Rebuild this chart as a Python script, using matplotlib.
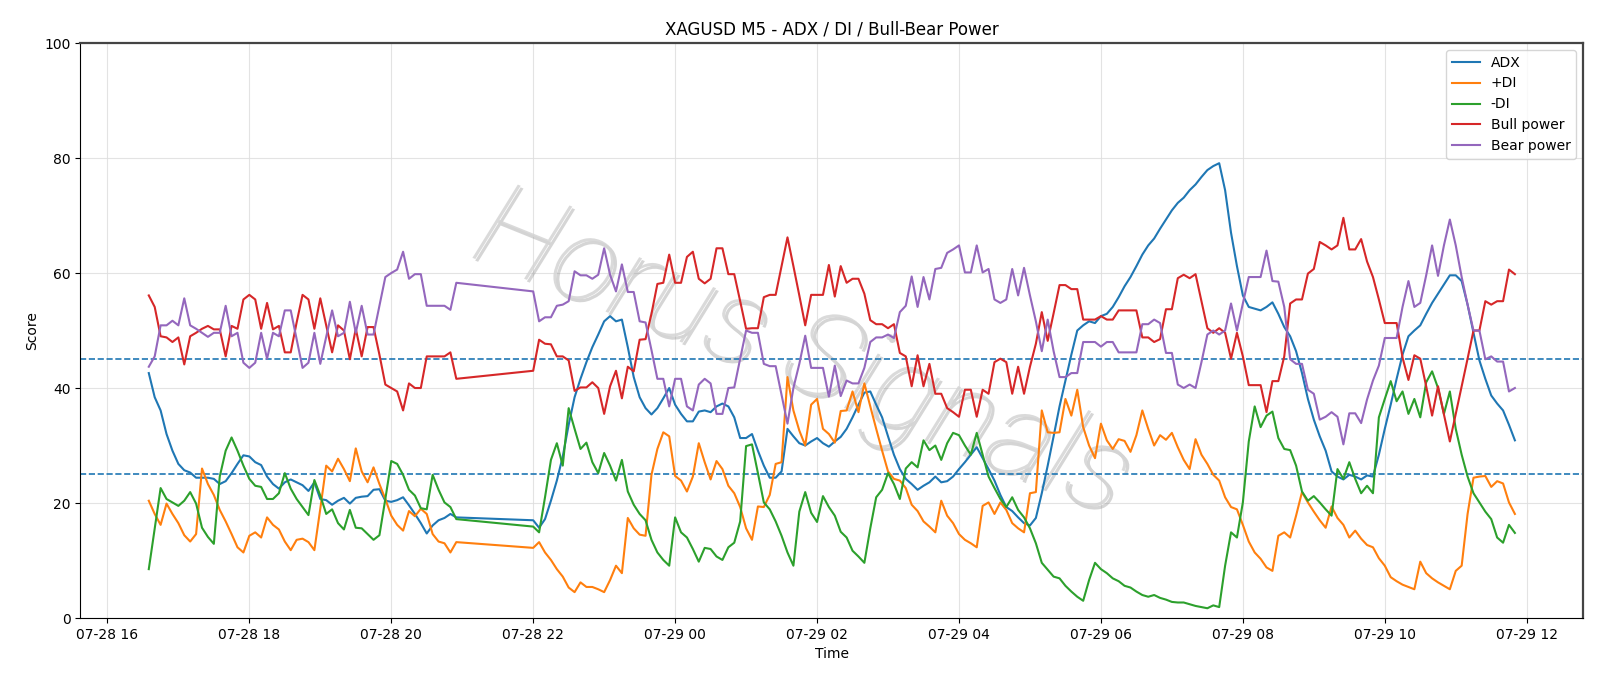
import matplotlib
matplotlib.use("Agg")
import matplotlib.pyplot as plt
import matplotlib.dates as mdates
import matplotlib.patheffects as pe
import pandas as pd
import numpy as np

# ---- time axis (M5 bars, with the daily break 21:00-22:00) ----
times_pre = pd.date_range("2025-07-28 16:35", "2025-07-28 20:55", freq="5min")
times_post = pd.date_range("2025-07-28 22:00", "2025-07-29 11:50", freq="5min")

# ---- series values ----
adx_pre = [42.6, 38.4, 36.1, 32.0, 29.1, 26.8, 25.7, 25.3, 24.4, 24.4, 24.4, 24.2, 23.3, 23.8, 25.2,
           26.8, 28.3, 28.1, 27.1, 26.6, 24.6, 23.3, 22.5, 23.6, 24.1, 23.6, 23.1, 22.1, 23.6,
           20.7, 20.5, 19.7, 20.4, 20.9, 19.9, 20.9, 21.1, 21.2, 22.3, 22.4, 20.4, 20.2, 20.5, 21.0,
           19.6, 18.1, 16.5, 14.7, 16.1, 17.0, 17.4, 18.1, 17.5]
adx_post = [17.0, 15.7, 17.2, 20.4, 23.9, 28.1, 33.6, 38.4, 41.6, 44.5, 47.1, 49.3, 51.6, 52.5, 51.6,
            51.9, 47.1, 41.9, 38.4, 36.5, 35.4, 36.5, 38.2, 40.0,
            37.1, 35.5, 34.2, 34.2, 35.9, 36.1, 35.8, 36.8, 37.3, 36.8, 34.9, 31.3, 31.3, 32.0, 29.1,
            26.5, 24.4, 24.4, 25.5, 32.9, 31.6, 30.4, 30.0, 30.7, 31.3, 30.4, 29.8, 30.7, 31.5,
            32.9, 34.9, 37.1, 39.2, 39.4, 37.1, 34.9, 31.6, 28.4, 25.9, 24.2, 23.3, 22.3, 23.0, 23.6,
            24.6, 23.6, 23.8, 24.6, 25.9, 27.1, 28.4, 29.7, 27.8, 25.9, 23.9, 21.4, 19.3, 18.6, 17.5,
            16.5, 16.1, 17.4, 21.7, 26.5, 31.6, 36.8, 41.3, 45.8, 50.0, 50.9, 51.6, 51.3, 52.5, 52.9,
            54.1, 55.8, 57.7, 59.3, 61.2, 63.2, 64.8, 66.0, 67.7, 69.3, 70.9, 72.2, 73.1, 74.4,
            75.4, 76.7, 77.9, 78.6, 79.1, 74.4, 67.0, 61.2, 56.1, 54.1, 53.8, 53.5, 54.1, 54.9, 52.9,
            50.6, 49.0, 46.4, 42.6, 38.1, 34.5, 31.6, 29.1, 25.5, 24.6, 24.1, 24.9, 24.6, 24.1, 24.8,
            24.6, 28.4, 32.9, 37.1, 41.6, 45.8, 49.0, 50.0, 50.9, 52.9, 54.8, 56.4, 58.0, 59.6, 59.6,
            58.6, 54.5, 49.6, 44.8, 41.6, 38.7, 37.3, 36.1, 33.6, 30.9]

pdi_pre = [20.4, 18.1, 16.2, 19.9, 18.1, 16.5, 14.4, 13.3, 14.6, 26.0, 23.3, 21.4, 18.8, 16.8, 14.6,
           12.3, 11.4, 14.3, 14.9, 14.0, 17.5, 16.2, 15.4, 13.3, 11.8, 13.6, 13.8, 13.2, 11.8,
           19.0, 26.5, 25.5, 27.7, 25.9, 23.8, 29.5, 25.5, 23.6, 26.2, 23.3, 20.7, 17.8, 16.2, 15.2,
           18.6, 17.7, 19.0, 18.1, 14.6, 13.3, 13.0, 11.4, 13.2]
pdi_post = [12.2, 13.2, 11.4, 10.1, 8.5, 7.2, 5.3, 4.5, 6.2, 5.4, 5.4, 5.0, 4.5, 6.6, 9.1, 7.8,
            17.4, 15.6, 14.5, 14.3, 24.9, 29.4, 32.3, 31.6,
            24.7, 23.9, 22.0, 24.6, 30.4, 27.1, 24.1, 27.3, 25.9, 23.0, 21.7, 19.3, 15.6, 13.6, 19.4,
            19.3, 21.4, 26.8, 27.1, 41.9, 36.1, 32.6, 30.0, 37.1, 38.1, 32.9, 32.0, 30.5, 36.0,
            36.1, 39.4, 35.8, 40.8, 36.8, 32.9, 29.1, 25.5, 24.2, 23.9, 22.6, 19.7, 18.6, 16.8, 15.9,
            14.9, 20.4, 17.8, 16.5, 14.6, 13.6, 13.0, 12.3, 19.5, 20.1, 18.1, 20.1, 18.8, 16.5, 15.6,
            14.9, 21.7, 21.9, 36.1, 32.3, 32.2, 32.3, 38.1, 35.2, 39.7, 33.2, 30.0, 27.8, 33.8, 30.9,
            29.4, 31.1, 30.8, 28.9, 31.8, 36.1, 32.9, 30.0, 31.8, 31.0, 32.2, 29.7, 27.5, 25.9,
            31.1, 28.4, 26.8, 24.9, 23.9, 21.0, 19.3, 18.9, 16.2, 13.3, 11.4, 10.3, 8.8, 8.2, 14.3,
            14.9, 14.0, 17.8, 21.9, 20.1, 18.5, 17.0, 15.7, 19.4, 17.4, 16.2, 14.0, 15.2, 13.8, 12.7,
            12.3, 10.4, 9.1, 7.1, 6.4, 5.8, 5.4, 5.0, 9.8, 7.8, 6.9, 6.2, 5.6, 5.0, 8.2,
            9.1, 18.1, 24.4, 24.6, 24.7, 22.8, 23.8, 23.4, 20.1, 18.1]

mdi_pre = [8.5, 15.6, 22.6, 20.7, 20.1, 19.5, 20.4, 21.9, 19.9, 15.7, 14.1, 12.9, 24.6, 29.1, 31.4,
           29.1, 26.5, 24.2, 23.0, 22.8, 20.7, 20.7, 21.7, 25.2, 22.5, 20.7, 19.3, 17.9, 24.0,
           21.3, 18.1, 18.9, 16.5, 15.4, 18.8, 15.7, 15.6, 14.6, 13.6, 14.4, 20.7, 27.3, 26.8, 24.9,
           22.3, 21.3, 19.1, 18.9, 24.9, 22.3, 20.1, 19.3, 17.2]
mdi_post = [15.9, 14.9, 21.0, 27.5, 30.4, 26.5, 36.5, 32.9, 29.4, 30.5, 27.1, 25.2, 28.7, 26.5, 23.9,
            27.5, 22.0, 19.7, 18.1, 17.0, 13.6, 11.4, 10.1, 9.1,
            17.5, 14.9, 14.0, 12.0, 9.8, 12.2, 12.0, 10.7, 10.1, 12.3, 13.1, 16.8, 29.9, 30.2, 25.2,
            20.1, 18.9, 16.8, 14.3, 11.4, 9.1, 18.5, 21.9, 18.3, 16.7, 21.2, 19.3, 17.8, 15.0,
            14.0, 11.7, 10.7, 9.6, 15.6, 21.0, 22.3, 25.2, 23.3, 20.7, 26.0, 27.1, 26.2, 30.9, 29.2,
            30.0, 27.5, 30.4, 32.2, 31.8, 30.0, 28.4, 32.2, 28.4, 24.6, 22.6, 20.7, 19.3, 21.0, 18.8,
            17.5, 15.6, 13.0, 9.6, 8.4, 7.2, 6.9, 5.6, 4.6, 3.7, 3.0, 6.6, 9.6, 8.5, 7.8,
            6.9, 6.4, 5.6, 5.3, 4.6, 4.0, 3.7, 4.0, 3.5, 3.2, 2.8, 2.7, 2.7, 2.4,
            2.1, 1.9, 1.7, 2.2, 1.9, 9.1, 14.9, 14.0, 20.1, 30.7, 36.8, 33.2, 35.2, 35.9, 31.3,
            29.4, 29.2, 26.5, 22.0, 20.4, 21.2, 20.1, 18.9, 17.8, 25.9, 24.2, 27.1, 24.2, 21.7, 23.0,
            21.7, 34.9, 38.1, 41.2, 37.7, 39.4, 35.5, 38.1, 34.9, 41.0, 42.9, 40.0, 35.5, 39.4, 32.9,
            28.4, 24.6, 21.7, 20.1, 18.5, 17.2, 14.0, 13.1, 16.2, 14.8]

bull_pre = [56.1, 54.1, 49.0, 48.8, 48.0, 48.8, 44.1, 49.0, 49.6, 50.3, 50.8, 50.2, 50.2, 45.5, 50.8,
            50.3, 55.4, 56.2, 55.4, 50.3, 54.8, 50.2, 50.8, 46.2, 46.2, 51.4, 56.2, 55.4, 50.3,
            55.6, 50.9, 46.2, 50.9, 50.0, 45.0, 50.3, 45.5, 50.6, 50.6, 45.8, 40.6, 40.0, 39.4, 36.1,
            40.8, 40.0, 40.0, 45.5, 45.5, 45.5, 45.5, 46.2, 41.6]
bull_post = [43.0, 48.4, 47.7, 47.6, 45.5, 45.5, 44.8, 39.5, 40.1, 40.1, 41.0, 40.0, 35.5, 40.3, 43.0,
             38.2, 43.7, 42.9, 48.4, 48.5, 52.9, 58.1, 58.3, 63.2,
             58.3, 58.3, 62.8, 63.7, 59.0, 58.2, 59.0, 64.3, 64.3, 59.8, 59.8, 55.1, 50.3, 50.4, 50.4,
             55.8, 56.2, 56.2, 61.2, 66.2, 61.2, 56.1, 50.9, 56.2, 56.2, 56.2, 61.4, 55.9, 61.2,
             58.3, 59.0, 59.0, 56.4, 51.8, 51.1, 51.1, 50.4, 51.1, 46.1, 45.5, 40.3, 45.7, 40.3, 44.2,
             39.0, 39.0, 36.5, 35.8, 35.0, 39.7, 39.7, 35.0, 39.7, 39.0, 44.5, 45.1, 44.5, 39.0, 43.7,
             39.0, 43.7, 47.7, 53.2, 48.2, 53.0, 57.9, 57.9, 57.2, 57.2, 51.9, 51.9, 51.9, 52.5, 51.9,
             51.9, 53.5, 53.5, 53.5, 53.5, 48.8, 48.8, 48.0, 48.5, 53.7, 53.7, 59.1, 59.7, 59.1,
             59.8, 55.1, 50.4, 49.6, 50.4, 49.6, 45.1, 49.6, 45.5, 40.5, 40.5, 40.5, 35.8, 41.2, 41.2,
             45.5, 54.7, 55.4, 55.4, 59.9, 60.7, 65.4, 64.8, 64.1, 64.8, 69.6, 64.1, 64.1, 65.9, 62.0,
             59.3, 55.4, 51.3, 51.3, 51.3, 45.3, 41.4, 45.7, 45.1, 40.3, 35.2, 40.3, 35.4, 30.7, 35.5,
             40.3, 45.1, 50.0, 50.0, 55.1, 54.5, 55.1, 55.1, 60.6, 59.8]

bear_pre = [43.7, 45.5, 50.9, 50.9, 51.7, 50.9, 55.6, 50.9, 50.3, 49.6, 48.9, 49.6, 49.6, 54.3, 49.0,
            49.6, 44.4, 43.5, 44.4, 49.6, 45.1, 49.6, 49.0, 53.5, 53.5, 48.5, 43.5, 44.4, 49.6,
            44.2, 48.9, 53.5, 49.0, 49.6, 55.0, 49.6, 54.3, 49.3, 49.3, 54.3, 59.3, 60.0, 60.6, 63.7,
            59.0, 59.8, 59.8, 54.3, 54.3, 54.3, 54.3, 53.6, 58.3]
bear_post = [56.8, 51.6, 52.3, 52.3, 54.3, 54.5, 55.1, 60.3, 59.6, 59.6, 59.0, 59.7, 64.3, 59.7, 56.8,
             61.5, 56.7, 56.7, 51.6, 51.4, 46.6, 41.6, 41.6, 36.8,
             41.6, 41.6, 36.8, 36.1, 40.6, 41.6, 40.8, 35.5, 35.5, 40.0, 40.1, 45.1, 50.0, 49.6, 49.6,
             44.2, 43.8, 43.8, 38.8, 33.8, 40.0, 44.2, 49.1, 43.5, 43.5, 43.5, 38.5, 43.9, 38.6,
             41.3, 40.8, 40.8, 43.5, 48.0, 48.8, 48.8, 49.3, 48.7, 53.2, 54.3, 59.4, 54.1, 59.3, 55.4,
             60.7, 60.9, 63.5, 64.1, 64.8, 60.1, 60.1, 64.8, 60.1, 60.7, 55.4, 54.8, 55.4, 60.7, 56.1,
             60.9, 56.1, 51.6, 46.4, 51.9, 46.4, 41.9, 41.9, 42.6, 42.6, 48.0, 48.0, 48.0, 47.2, 48.0,
             48.0, 46.2, 46.2, 46.2, 46.2, 51.1, 51.1, 51.9, 51.3, 46.1, 46.1, 40.6, 40.0, 40.6,
             40.0, 44.5, 49.3, 50.0, 49.3, 50.0, 54.7, 50.0, 54.7, 59.3, 59.3, 59.3, 63.9, 58.6, 58.5,
             54.1, 45.0, 44.2, 44.2, 39.7, 39.0, 34.5, 35.0, 35.8, 35.0, 30.2, 35.6, 35.6, 33.9, 38.0,
             41.3, 43.9, 48.7, 48.7, 48.7, 54.1, 58.6, 54.1, 54.8, 59.6, 64.8, 59.5, 64.8, 69.3, 64.8,
             59.3, 54.5, 50.0, 50.0, 45.0, 45.5, 44.6, 44.6, 39.4, 40.0]

ref_levels = [25, 45]

times = times_pre.append(times_post)
df = pd.DataFrame({
    "ADX": adx_pre + adx_post,
    "+DI": pdi_pre + pdi_post,
    "-DI": mdi_pre + mdi_post,
    "Bull power": bull_pre + bull_post,
    "Bear power": bear_pre + bear_post,
}, index=times)

fig = plt.figure(figsize=(16, 6.86), dpi=100)
ax = fig.add_axes([0.0503, 0.0991, 0.9392, 0.8382])

colors = ["#1f77b4", "#ff7f0e", "#2ca02c", "#d62728", "#9467bd"]
for col, c in zip(df.columns, colors):
    ax.plot(df.index, df[col], color=c, lw=1.5, label=col, zorder=3)

for lv in ref_levels:
    ax.axhline(lv, color="#1f77b4", ls="--", lw=1.2, zorder=2)

ax.set_ylim(0, 100)
ax.margins(x=0.05)
ax.xaxis.set_major_locator(mdates.HourLocator(byhour=range(0, 24, 2)))
ax.xaxis.set_major_formatter(mdates.DateFormatter("%m-%d %H"))
ax.grid(True, color="#dddddd", lw=0.8, alpha=0.8, zorder=0)
ax.set_axisbelow(True)
ax.set_title("XAGUSD M5 - ADX / DI / Bull-Bear Power", fontsize=12)
ax.set_xlabel("Time")
ax.set_ylabel("Score")
for s in ["top", "right"]:
    ax.spines[s].set_color("#444444")
    ax.spines[s].set_linewidth(1.6)
ax.legend(loc="upper right", fontsize=10)

# watermark
ax.text(0.48, 0.455, "Horus Signals", transform=ax.transAxes, fontsize=86,
        family=["Roboto", "DejaVu Sans"], fontstyle="italic", fontweight=200,
        color="#d4d4d4", alpha=0.85, rotation=-22, ha="center", va="center", zorder=1,
        path_effects=[pe.withSimplePatchShadow(offset=(2, -2), shadow_rgbFace="#888888", alpha=0.35)])

fig.savefig("out.png", dpi=100)
